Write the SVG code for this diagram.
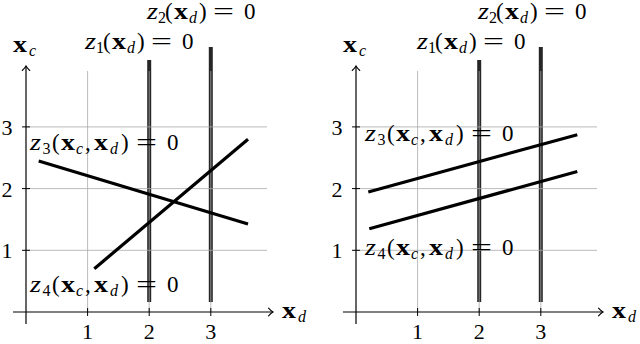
<svg xmlns="http://www.w3.org/2000/svg" width="640" height="344" viewBox="0 0 640 344" font-family="'Liberation Serif', 'DejaVu Serif', serif">
<style>
text{font-family:'Liberation Serif','DejaVu Serif','Times New Roman',serif;fill:#000}
.m{font-size:23px}
.i{font-size:23px;font-style:italic}
.b{font-size:23px;font-weight:bold}
.s{font-size:16px}
.si{font-size:16px;font-style:italic}
.t{font-size:22px;text-anchor:middle}
.grid{stroke:#a8a8a8;stroke-width:0.8;fill:none}
.axis{stroke:#000;stroke-width:1.2;fill:none}
.tick{stroke:#000;stroke-width:1;fill:none}
.arr{stroke:#000;stroke-width:1.1;fill:none;stroke-linecap:round}
.vz{stroke:#262626;stroke-width:4;fill:none}
.dz{stroke:#000;stroke-width:3.2;fill:none}
</style>
<rect width="640" height="344" fill="#fff"/>

<!-- LEFT PANEL -->
<g id="left-panel">
  <g id="left-vertical-surfaces">
    <line class="vz" x1="149.2" y1="60" x2="149.2" y2="302"/>
    <line class="vz" x1="210.8" y1="47" x2="210.8" y2="302"/>
  </g>
  <g id="left-grid">
    <path class="grid" d="M87.6,71V312M149.2,71V312M210.8,71V312M26,250.3H267M26,188.6H267M26,126.9H267"/>
  </g>
  <g id="left-axes">
    <line class="axis" x1="13" y1="312" x2="272.5" y2="312"/>
    <line class="axis" x1="26" y1="324" x2="26" y2="66.5"/>
    <path class="arr" d="M268.5,308.2Q271,311 273,312Q271,313 268.5,315.8"/>
    <path class="arr" d="M22.2,70.5Q25,68 26,66Q27,68 29.8,70.5"/>
    <path class="tick" d="M87.6,308V316M149.2,308V316M210.8,308V316M22,250.3H30M22,188.6H30M22,126.9H30"/>
    <text class="t" x="87.6" y="339">1</text>
    <text class="t" x="149.2" y="339">2</text>
    <text class="t" x="210.8" y="339">3</text>
    <text class="t" x="7" y="258.3">1</text>
    <text class="t" x="7" y="196.6">2</text>
    <text class="t" x="7" y="134.9">3</text>
    <text class="b" x="13" y="52" textLength="14" lengthAdjust="spacingAndGlyphs">x</text>
    <text class="si" x="29" y="56">c</text>
    <text class="b" x="282" y="318" textLength="14" lengthAdjust="spacingAndGlyphs">x</text>
    <text class="si" x="298" y="322">d</text>
  </g>
  <g id="left-diagonal-surfaces">
    <line class="dz" x1="38.7" y1="161" x2="248" y2="224"/>
    <line class="dz" x1="94.3" y1="268.7" x2="248" y2="139.3"/>
  </g>
  <g id="left-label-z2" transform="translate(147,19)">
    <text class="i" x="0" y="0" textLength="11" lengthAdjust="spacingAndGlyphs">z</text>
    <text class="s" x="11" y="4">2</text>
    <text class="m" x="18" y="0">(</text>
    <text class="b" x="27" y="0" textLength="14" lengthAdjust="spacingAndGlyphs">x</text>
    <text class="si" x="42" y="4">d</text>
    <text class="m" x="52" y="0">)</text>
    <text class="m" x="66" y="0" textLength="21" lengthAdjust="spacingAndGlyphs">=</text>
    <text class="m" x="97" y="0">0</text>
  </g>
  <g id="left-label-z1" transform="translate(85,49)">
    <text class="i" x="0" y="0" textLength="11" lengthAdjust="spacingAndGlyphs">z</text>
    <text class="s" x="11" y="4">1</text>
    <text class="m" x="18" y="0">(</text>
    <text class="b" x="27" y="0" textLength="14" lengthAdjust="spacingAndGlyphs">x</text>
    <text class="si" x="42" y="4">d</text>
    <text class="m" x="52" y="0">)</text>
    <text class="m" x="66" y="0" textLength="21" lengthAdjust="spacingAndGlyphs">=</text>
    <text class="m" x="97" y="0">0</text>
  </g>
  <g id="left-label-z3" transform="translate(30,150)">
    <text class="i" x="0" y="0" textLength="11" lengthAdjust="spacingAndGlyphs">z</text>
    <text class="s" x="12.5" y="4">3</text>
    <text class="m" x="22" y="0">(</text>
    <text class="b" x="31" y="0" textLength="14" lengthAdjust="spacingAndGlyphs">x</text>
    <text class="si" x="46" y="4">c</text>
    <text class="m" x="55" y="0">,</text>
    <text class="b" x="64" y="0" textLength="14" lengthAdjust="spacingAndGlyphs">x</text>
    <text class="si" x="80" y="4">d</text>
    <text class="m" x="91" y="0">)</text>
    <text class="m" x="106" y="0" textLength="21" lengthAdjust="spacingAndGlyphs">=</text>
    <text class="m" x="137" y="0">0</text>
  </g>
  <g id="left-label-z4" transform="translate(30,292)">
    <text class="i" x="0" y="0" textLength="11" lengthAdjust="spacingAndGlyphs">z</text>
    <text class="s" x="12.5" y="4">4</text>
    <text class="m" x="22" y="0">(</text>
    <text class="b" x="31" y="0" textLength="14" lengthAdjust="spacingAndGlyphs">x</text>
    <text class="si" x="46" y="4">c</text>
    <text class="m" x="55" y="0">,</text>
    <text class="b" x="64" y="0" textLength="14" lengthAdjust="spacingAndGlyphs">x</text>
    <text class="si" x="80" y="4">d</text>
    <text class="m" x="91" y="0">)</text>
    <text class="m" x="106" y="0" textLength="21" lengthAdjust="spacingAndGlyphs">=</text>
    <text class="m" x="137" y="0">0</text>
  </g>
</g>

<!-- RIGHT PANEL -->
<g id="right-panel">
  <g id="right-vertical-surfaces">
    <line class="vz" x1="479.2" y1="60" x2="479.2" y2="302"/>
    <line class="vz" x1="540.8" y1="47" x2="540.8" y2="302"/>
  </g>
  <g id="right-grid">
    <path class="grid" d="M417.6,71V312M479.2,71V312M540.8,71V312M356,250.3H597M356,188.6H597M356,126.9H597"/>
  </g>
  <g id="right-axes">
    <line class="axis" x1="343" y1="312" x2="602.5" y2="312"/>
    <line class="axis" x1="356" y1="324" x2="356" y2="66.5"/>
    <path class="arr" d="M598.5,308.2Q601,311 603,312Q601,313 598.5,315.8"/>
    <path class="arr" d="M352.2,70.5Q355,68 356,66Q357,68 359.8,70.5"/>
    <path class="tick" d="M417.6,308V316M479.2,308V316M540.8,308V316M352,250.3H360M352,188.6H360M352,126.9H360"/>
    <text class="t" x="417.6" y="339">1</text>
    <text class="t" x="479.2" y="339">2</text>
    <text class="t" x="540.8" y="339">3</text>
    <text class="t" x="337" y="258.3">1</text>
    <text class="t" x="337" y="196.6">2</text>
    <text class="t" x="337" y="134.9">3</text>
    <text class="b" x="343" y="52" textLength="14" lengthAdjust="spacingAndGlyphs">x</text>
    <text class="si" x="359" y="56">c</text>
    <text class="b" x="612" y="318" textLength="14" lengthAdjust="spacingAndGlyphs">x</text>
    <text class="si" x="628" y="322">d</text>
  </g>
  <g id="right-diagonal-surfaces">
    <line class="dz" x1="368.3" y1="192" x2="577.3" y2="134.7"/>
    <line class="dz" x1="369.3" y1="228.7" x2="577.3" y2="171.5"/>
  </g>
  <g id="right-label-z2" transform="translate(478,19)">
    <text class="i" x="0" y="0" textLength="11" lengthAdjust="spacingAndGlyphs">z</text>
    <text class="s" x="11" y="4">2</text>
    <text class="m" x="18" y="0">(</text>
    <text class="b" x="27" y="0" textLength="14" lengthAdjust="spacingAndGlyphs">x</text>
    <text class="si" x="42" y="4">d</text>
    <text class="m" x="52" y="0">)</text>
    <text class="m" x="66" y="0" textLength="21" lengthAdjust="spacingAndGlyphs">=</text>
    <text class="m" x="97" y="0">0</text>
  </g>
  <g id="right-label-z1" transform="translate(417,49)">
    <text class="i" x="0" y="0" textLength="11" lengthAdjust="spacingAndGlyphs">z</text>
    <text class="s" x="11" y="4">1</text>
    <text class="m" x="18" y="0">(</text>
    <text class="b" x="27" y="0" textLength="14" lengthAdjust="spacingAndGlyphs">x</text>
    <text class="si" x="42" y="4">d</text>
    <text class="m" x="52" y="0">)</text>
    <text class="m" x="66" y="0" textLength="21" lengthAdjust="spacingAndGlyphs">=</text>
    <text class="m" x="97" y="0">0</text>
  </g>
  <g id="right-label-z3" transform="translate(365,141)">
    <text class="i" x="0" y="0" textLength="11" lengthAdjust="spacingAndGlyphs">z</text>
    <text class="s" x="12.5" y="4">3</text>
    <text class="m" x="22" y="0">(</text>
    <text class="b" x="31" y="0" textLength="14" lengthAdjust="spacingAndGlyphs">x</text>
    <text class="si" x="46" y="4">c</text>
    <text class="m" x="55" y="0">,</text>
    <text class="b" x="64" y="0" textLength="14" lengthAdjust="spacingAndGlyphs">x</text>
    <text class="si" x="80" y="4">d</text>
    <text class="m" x="91" y="0">)</text>
    <text class="m" x="106" y="0" textLength="21" lengthAdjust="spacingAndGlyphs">=</text>
    <text class="m" x="137" y="0">0</text>
  </g>
  <g id="right-label-z4" transform="translate(365,255)">
    <text class="i" x="0" y="0" textLength="11" lengthAdjust="spacingAndGlyphs">z</text>
    <text class="s" x="12.5" y="4">4</text>
    <text class="m" x="22" y="0">(</text>
    <text class="b" x="31" y="0" textLength="14" lengthAdjust="spacingAndGlyphs">x</text>
    <text class="si" x="46" y="4">c</text>
    <text class="m" x="55" y="0">,</text>
    <text class="b" x="64" y="0" textLength="14" lengthAdjust="spacingAndGlyphs">x</text>
    <text class="si" x="80" y="4">d</text>
    <text class="m" x="91" y="0">)</text>
    <text class="m" x="106" y="0" textLength="21" lengthAdjust="spacingAndGlyphs">=</text>
    <text class="m" x="137" y="0">0</text>
  </g>
</g>
</svg>
